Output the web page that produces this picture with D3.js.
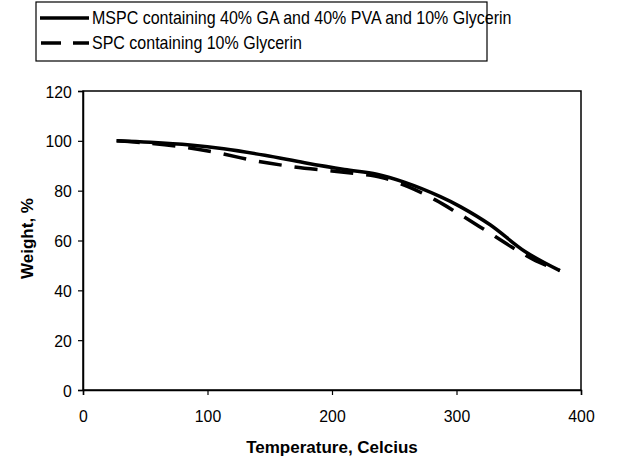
<!DOCTYPE html>
<html>
<head>
<meta charset="utf-8">
<script src="https://cdn.jsdelivr.net/npm/d3@7"></script>
<style>
  body { margin: 0; background: #fff; }
  text { font-family: "Liberation Sans", Arial, sans-serif; fill: #000; }
</style>
</head>
<body>
<div id="chart"></div>
<script>
// Series: [temperature, weight %]
const mspc = [
  [27, 100], [54, 99.4], [86, 98.3], [113, 96.8], [146, 94.2], [178, 91.2],
  [210, 88.5], [236, 86.6], [258, 83.4], [287, 77.6], [303, 73.6], [327, 66.3],
  [355, 55.6], [383, 47.9]
];
const spc = [
  [27, 100], [50, 99.2], [78, 97.7], [107, 95.3], [138, 92], [169, 89.6],
  [200, 87.9], [222, 86.7], [240, 85.3], [262, 81.4], [283, 76.3], [301, 71],
  [322, 64.5], [344, 57.5], [362, 52.3], [383, 47.9]
];
const legendLabels = [
  "MSPC containing 40% GA and 40% PVA and 10% Glycerin",
  "SPC containing 10% Glycerin"
];
const xTicks = [0, 100, 200, 300, 400];
const yTicks = [0, 20, 40, 60, 80, 100, 120];

const width = 621, height = 456;
const margin = { left: 83, right: 40, top: 91, bottom: 66 };

const svg = d3.select("#chart")
  .append("svg")
  .attr("width", width)
  .attr("height", height);

const x = d3.scaleLinear().domain([0, 400]).range([margin.left, width - margin.right]);
const y = d3.scaleLinear().domain([0, 120]).range([height - margin.bottom, margin.top]);

// plot frame
svg.append("rect")
  .attr("x", x(0))
  .attr("y", y(120))
  .attr("width", x(400) - x(0))
  .attr("height", y(0) - y(120))
  .attr("fill", "none")
  .attr("stroke", "#000")
  .attr("stroke-width", 1.5);

// axes
const xAxis = svg.append("g")
  .attr("transform", `translate(0,${y(0)})`)
  .call(d3.axisBottom(x).tickValues(xTicks).tickSize(5).tickPadding(21).tickFormat(d3.format("d")));
const yAxis = svg.append("g")
  .attr("transform", `translate(${x(0)},0)`)
  .call(d3.axisLeft(y).tickValues(yTicks).tickSize(5).tickPadding(7).tickFormat(d3.format("d")));

[xAxis, yAxis].forEach((g) => {
  g.select(".domain").attr("stroke-width", 1.5);
  g.selectAll(".tick line").attr("stroke-width", 1.2);
  g.selectAll(".tick text")
    .attr("font-size", 17)
    .attr("font-family", "Liberation Sans, Arial, sans-serif")
    .attr("transform", "scale(0.93,1)")
    .attr("dy", "0.36em");
});

// axis titles
svg.append("text")
  .attr("x", (x(0) + x(400)) / 2)
  .attr("y", 453)
  .attr("text-anchor", "middle")
  .attr("font-size", 17)
  .attr("font-weight", "bold")
  .text("Temperature, Celcius");

svg.append("text")
  .attr("transform", `translate(33,${(y(0) + y(120)) / 2 - 2}) rotate(-90)`)
  .attr("text-anchor", "middle")
  .attr("font-size", 17)
  .attr("font-weight", "bold")
  .text("Weight, %");

// lines
const line = d3.line()
  .x((d) => x(d[0]))
  .y((d) => y(d[1]))
  .curve(d3.curveCatmullRom);

svg.append("path")
  .datum(spc)
  .attr("d", line)
  .attr("fill", "none")
  .attr("stroke", "#000")
  .attr("stroke-width", 3.5)
  .attr("stroke-dasharray", "23,13");

svg.append("path")
  .datum(mspc)
  .attr("d", line)
  .attr("fill", "none")
  .attr("stroke", "#000")
  .attr("stroke-width", 3.5);

// legend
const legend = svg.append("g");
legend.append("rect")
  .attr("x", 36)
  .attr("y", 2)
  .attr("width", 451)
  .attr("height", 59)
  .attr("fill", "#fff")
  .attr("stroke", "#000")
  .attr("stroke-width", 1.2);

const legendY = [18, 43];
legendLabels.forEach((label, i) => {
  legend.append("line")
    .attr("x1", i === 0 ? 40 : 41)
    .attr("x2", 89)
    .attr("y1", legendY[i])
    .attr("y2", legendY[i])
    .attr("stroke", "#000")
    .attr("stroke-width", 3.5)
    .attr("stroke-dasharray", i === 0 ? null : "20,12");
  legend.append("text")
    .attr("transform", `translate(92,${legendY[i]}) scale(0.89,1)`)
    .attr("dy", "0.36em")
    .attr("font-size", 18)
    .text(label);
});
</script>
</body>
</html>
